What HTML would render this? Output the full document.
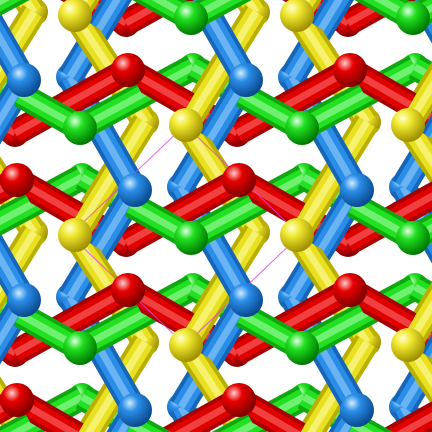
<!DOCTYPE html>
<html><head><meta charset="utf-8"><style>
html,body{margin:0;padding:0;background:#fff;width:432px;height:432px;overflow:hidden}
svg{display:block;overflow:hidden}
</style></head><body>
<svg id="scene" width="432" height="432" viewBox="0 0 432 432" xmlns="http://www.w3.org/2000/svg">
<defs>
<clipPath id="frame"><rect x="0" y="0" width="432" height="432"/></clipPath>
<radialGradient id="gy" cx="0.35" cy="0.3" r="0.7"><stop offset="0" stop-color="#ffffd0"/><stop offset="0.35" stop-color="#f0e830"/><stop offset="1" stop-color="#a09000"/></radialGradient>
<radialGradient id="gb" cx="0.35" cy="0.3" r="0.7"><stop offset="0" stop-color="#d0ecff"/><stop offset="0.35" stop-color="#2a8ee8"/><stop offset="1" stop-color="#0a4a90"/></radialGradient>
<radialGradient id="gr" cx="0.35" cy="0.3" r="0.7"><stop offset="0" stop-color="#ffd0d0"/><stop offset="0.35" stop-color="#e80000"/><stop offset="1" stop-color="#800000"/></radialGradient>
<radialGradient id="gg" cx="0.35" cy="0.3" r="0.7"><stop offset="0" stop-color="#e0ffe0"/><stop offset="0.35" stop-color="#20e020"/><stop offset="1" stop-color="#007a00"/></radialGradient>
</defs>
<g clip-path="url(#frame)">
<g id="hidden"></g>
<g id="rodsBack"></g>
<g id="rodsFront"></g>
<g id="cell">
<polygon points="185,125 300,235 185,345 70,235" fill="none" stroke="#e040e0" stroke-width="1" opacity="0.8"/>
</g>
<g id="tops"></g>
</g>
</svg>
<script>
const colorNames = ['yellow','blue','red','green'];
const topPoints = [[75,15],[135,190],[128,70],[80,128]];
const hiddenPoints = [[145,122],[70,77],[237,133],[193,67]];
const periods = [[0,220],[0,-220],[222,0],[222,0]];
const darks = {blue:'#1565b8',yellow:'#b8b000',red:'#a80000',green:'#0ea80e'};
const fills = {blue:'#2a8ee8',yellow:'#e8e020',red:'#e00000',green:'#22e022'};
const hilite = {blue:'#6ab4f4',yellow:'#f6f270',red:'#f04040',green:'#70f070'};
const grads = {blue:'url(#gb)',yellow:'url(#gy)',red:'url(#gr)',green:'url(#gg)'};
const NS='http://www.w3.org/2000/svg';
const back=document.getElementById('rodsBack'), front=document.getElementById('rodsFront'), tops=document.getElementById('tops'), hid=document.getElementById('hidden');
function line(g,a,b,c,w,name){
  const l=document.createElementNS(NS,'line');
  l.setAttribute('x1',a[0]);l.setAttribute('y1',a[1]);l.setAttribute('x2',b[0]);l.setAttribute('y2',b[1]);
  l.setAttribute('stroke',c);l.setAttribute('stroke-width',w);l.setAttribute('stroke-linecap','butt');
  
  
  g.appendChild(l);
}
function ball(g,p,f,r,name){
  const c=document.createElementNS(NS,'circle');
  c.setAttribute('cx',p[0]);c.setAttribute('cy',p[1]);c.setAttribute('r',r);c.setAttribute('fill',f);
  
  
  g.appendChild(c);
}
function rod(g,p,q,cn){
  line(g,p,q,darks[cn],26,cn+'-bond');
  line(g,p,q,fills[cn],18,cn+'-bond-body');
  line(g,p,q,hilite[cn],7,cn+'-bond-highlight');
}
const shifts=[];
for(let m=-3;m<=3;m++)for(let n=-4;n<=4;n++){shifts.push([m*222+n*111,n*110]);}
function vis(pts){
  return !(Math.min(...pts.map(p=>p[0]))>450||Math.max(...pts.map(p=>p[0]))<-20||Math.min(...pts.map(p=>p[1]))>450||Math.max(...pts.map(p=>p[1]))<-20);
}
colorNames.forEach((cn,k)=>{
  const B=hiddenPoints[k];
  shifts.forEach(s=>{
    const b=[B[0]+s[0],B[1]+s[1]];
    if(!vis([b]))return;
    ball(hid,b,grads[cn],14,cn+'-atom-back');
  });
});
colorNames.forEach((cn,k)=>{
  const A=topPoints[k],B=hiddenPoints[k],P=periods[k];
  shifts.forEach(s=>{
    const a=[A[0]+s[0],A[1]+s[1]],b=[B[0]+s[0],B[1]+s[1]],a2=[a[0]+P[0],a[1]+P[1]];
    [[a,b],[a2,b]].forEach(([t,h])=>{
      if(!vis([t,h]))return;
      const m=[(t[0]+h[0])/2,(t[1]+h[1])/2];
      const mb=[(t[0]*0.45+h[0]*0.55),(t[1]*0.45+h[1]*0.55)];
      rod(back,h,m,cn);
      rod(front,t,mb,cn);
    });
  });
});
colorNames.forEach((cn,k)=>{
  const A=topPoints[k];
  shifts.forEach(s=>{
    const a=[A[0]+s[0],A[1]+s[1]];
    if(a[0]<-20||a[0]>450||a[1]<-20||a[1]>450)return;
    ball(tops,a,grads[cn],17,cn+'-atom-top');
  });
});
</script>
</body></html>
